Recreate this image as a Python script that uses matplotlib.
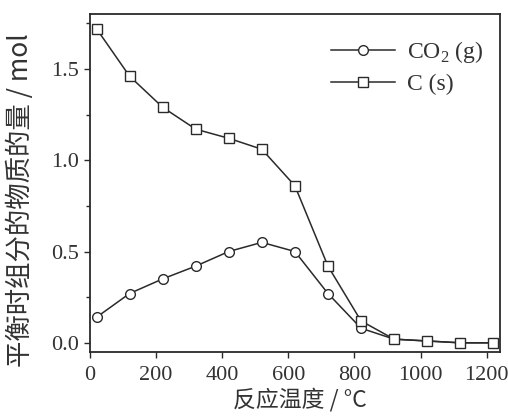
import matplotlib
matplotlib.use("Agg")
import matplotlib.pyplot as plt
from matplotlib.ticker import MultipleLocator, FormatStrFormatter

temps = [20, 120, 220, 320, 420, 520, 620, 720, 820, 920, 1020, 1120, 1220]
co2 = [0.14, 0.27, 0.35, 0.42, 0.50, 0.55, 0.50, 0.27, 0.08, 0.02, 0.01, 0.00, 0.00]
carbon = [1.72, 1.46, 1.29, 1.17, 1.12, 1.06, 0.86, 0.42, 0.12, 0.02, 0.01, 0.00, 0.00]
labels = ["CO$_2$ (g)", "C (s)"]
xlabel = "反应温度 / °C"
ylabel = "平衡时组分的物质的量 / mol"

plt.rcParams['font.family'] = ['Liberation Serif', 'DejaVu Serif']
plt.rcParams['mathtext.fontset'] = 'custom'
plt.rcParams['mathtext.rm'] = 'Liberation Serif'

fig = plt.figure(figsize=(5.08, 4.16), dpi=100)
ax = fig.add_axes([0.177, 0.154, 0.807, 0.812])

col = '#2a2a2a'
tcol = '#333333'
ax.plot(temps, co2, '-o', color=col, lw=1.1, ms=7, mfc='white', mec=col, mew=1.0, label=labels[0])
ax.plot(temps, carbon, '-s', color=col, lw=1.1, ms=7, mfc='white', mec=col, mew=1.0, label=labels[1])

ax.set_xlim(0, 1240)
ax.set_ylim(-0.05, 1.80)
ax.xaxis.set_major_locator(MultipleLocator(200))
ax.yaxis.set_major_locator(MultipleLocator(0.5))
ax.yaxis.set_minor_locator(MultipleLocator(0.25))
ax.yaxis.set_major_formatter(FormatStrFormatter('%.1f'))
ax.tick_params(axis='both', which='major', labelsize=16, length=4, width=1, color=col, labelcolor=tcol)
ax.tick_params(axis='x', which='major', pad=6)
ax.tick_params(axis='y', which='major', pad=4)
ax.tick_params(axis='y', which='minor', length=3, width=1, color=col)
for s in ax.spines.values():
    s.set_linewidth(1.3)
    s.set_color(col)

cjk = ['Noto Sans CJK SC', 'DejaVu Sans']
ax.set_xlabel(xlabel, fontsize=16.5, family=cjk, color=tcol, va='center')
ax.xaxis.set_label_coords(0.512, -0.142)
ax.set_ylabel(ylabel, fontsize=19, family=cjk, color=tcol, va='center')
ax.yaxis.set_label_coords(-0.17, 0.45)

leg = ax.legend(loc='upper right', frameon=False, fontsize=17, handlelength=2.7,
                handletextpad=0.5, borderaxespad=0.0, borderpad=0.0,
                labelspacing=0.35, bbox_to_anchor=(0.96, 0.925))
for t in leg.get_texts():
    t.set_color(tcol)

fig.savefig('out.png', dpi=100)
